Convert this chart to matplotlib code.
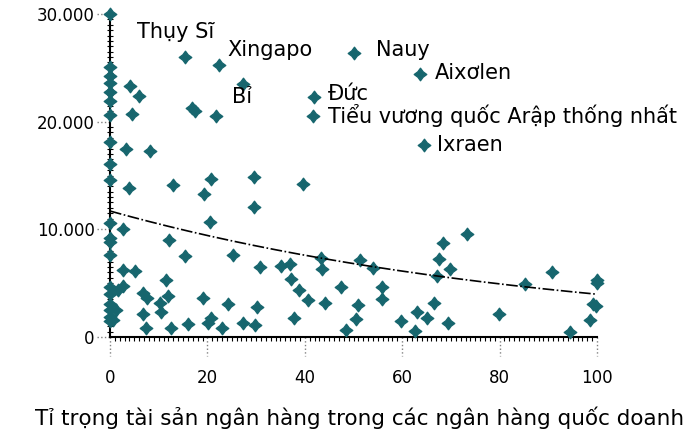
import numpy as np
import matplotlib
matplotlib.use('Agg')
import matplotlib.pyplot as plt
from matplotlib.path import Path
from matplotlib.ticker import MultipleLocator, FuncFormatter
import matplotlib.transforms as mtransforms

# diem tren truc tung (ti trong = 0)
x_axis_pts = [0] * 20
y_axis_pts = [30000, 25100, 24200, 23600, 22800, 21900, 20600, 18100, 16100, 14600,
              10600, 9200, 8800, 7600, 4600, 4000, 3100, 2500, 1900, 1500]

# cac nuoc co ten
label_names = ['Thụy Sĩ', 'Xingapo', 'Bỉ', 'Nauy', 'Aixơlen', 'Đức',
               'Tiểu vương quốc Arập thống nhất', 'Ixraen']
label_x = [15.4, 22.4, 27.4, 50.1, 63.7, 41.9, 41.6, 64.5]
label_y = [26000, 25300, 23500, 26400, 24400, 22300, 20500, 17800]

# cac nuoc con lai
other_x = [4.2, 6.0, 16.8, 17.5, 21.8, 4.6, 3.3, 8.2, 3.8, 13.0, 19.3, 20.7, 29.6, 29.6, 39.6, 20.6,
           2.7, 12.1, 15.4, 25.3, 30.7, 2.7, 5.1, 11.5, 2.7, 1.7, 6.8, 7.6, 12.0, 10.2, 19.1, 24.2,
           30.1, 1.3, 6.8, 10.5, 0.7, 20.7, 16.0, 20.1, 7.3, 12.6, 23.1, 27.4, 29.8,
           35.2, 37.0, 43.4, 43.5, 51.4, 54.0, 37.2, 38.8, 40.6, 47.5, 44.1, 55.8, 55.9, 51.0,
           50.6, 48.5, 37.7, 59.7, 63.0, 65.0, 62.7, 66.6,
           73.3, 68.4, 67.6, 69.8, 67.2, 69.4, 79.8, 85.3, 90.7, 99.9, 99.9, 99.2, 99.8, 98.6, 94.5]
other_y = [23300, 22400, 21300, 21000, 20500, 20700, 17500, 17300, 13800, 14100, 13300, 14650, 14900, 12100, 14200, 10700,
           10000, 9000, 7550, 7600, 6500, 6200, 6150, 5300, 4740, 4350, 4100, 3600, 3800, 3200, 3650, 3040,
           2800, 2550, 2170, 2300, 1600, 1780, 1240, 1300, 810, 850, 850, 1270, 1110,
           6580, 6770, 7350, 6350, 7120, 6420, 5380, 4370, 3400, 4670, 3130, 4600, 3560, 2970,
           1650, 620, 1810, 1450, 2300, 1740, 560, 3200,
           9550, 8700, 7240, 6350, 5650, 1270, 2120, 4940, 6000, 5300, 5000, 3050, 2900, 1580, 420]

# do lech nhan (pixel)
label_dx = [-48, 8, -11, 22, 15, 14, 15, 13]
label_dy = [25, 15, -13, 3, 1, 3, 1, 0]

# duong xu huong mu
trend_a = 11700
trend_b = -0.0108

x_ticks = [0, 20, 40, 60, 80, 100]
y_ticks = [0, 10000, 20000, 30000]

fig = plt.figure(figsize=(6.91, 4.45), dpi=100)
ax = fig.add_axes([110/691, 1-337/445, 487/691, 323/445])

# marker hinh sao 4 canh
ang = np.arange(8) * np.pi / 4 + np.pi / 2
rad = np.where(np.arange(8) % 2 == 0, 1.0, 0.6)
verts = np.column_stack([rad*np.cos(ang), rad*np.sin(ang)])
verts = np.vstack([verts, verts[:1]])
star = Path(verts, [Path.MOVETO] + [Path.LINETO]*7 + [Path.CLOSEPOLY])

col = '#17666e'
all_x = x_axis_pts + label_x + other_x
all_y = y_axis_pts + label_y + other_y
ax.plot(all_x, all_y, ls='none', marker=star, ms=9, mfc=col, mec=col, clip_on=False, zorder=3)

xs = np.linspace(0, 100, 200)
ax.plot(xs, trend_a*np.exp(trend_b*xs), color='black', lw=1.2, ls=(0, (7, 1.5, 1, 1.5)), zorder=4)

for name, x, y, dx, dy in zip(label_names, label_x, label_y, label_dx, label_dy):
    ax.annotate(name, (x, y), xytext=(dx, dy), textcoords='offset pixels',
                ha='left', va='center', fontsize=15, family='DejaVu Sans')

ax.set_xlim(0, 100)
ax.set_ylim(0, 30000)
for s in ['top', 'right']:
    ax.spines[s].set_visible(False)
ax.spines['left'].set_linewidth(1.5)
ax.spines['bottom'].set_linewidth(1.5)

ax.set_xticks(x_ticks)
ax.set_yticks(y_ticks)
ax.xaxis.set_minor_locator(MultipleLocator(1))
ax.yaxis.set_minor_locator(MultipleLocator(500))
ax.yaxis.set_major_formatter(FuncFormatter(lambda v, p: f'{int(v):,}'.replace(',', '.')))
ax.tick_params(which='major', length=0, labelsize=12)
ax.tick_params(axis='y', which='major', pad=11)
ax.tick_params(axis='x', which='major', pad=23)
ax.tick_params(axis='x', which='minor', length=3, width=0.8, direction='out')
ax.tick_params(axis='y', which='minor', length=5, width=0.8, direction='inout')

# vach cham cham o cac moc chinh
ty = mtransforms.blended_transform_factory(ax.transAxes, ax.transData)
for v in y_ticks:
    ax.plot([-0.027, 0], [v, v], transform=ty, color='gray', ls=':', lw=1, clip_on=False)
tx = mtransforms.blended_transform_factory(ax.transData, ax.transAxes)
for v in x_ticks:
    ax.plot([v, v], [0, -0.06], transform=tx, color='gray', ls=':', lw=1, clip_on=False)

fig.text(360/691, 1-418/445, 'Tỉ trọng tài sản ngân hàng trong các ngân hàng quốc doanh',
         ha='center', va='center', fontsize=15.5)

fig.savefig('out.png', dpi=100)
